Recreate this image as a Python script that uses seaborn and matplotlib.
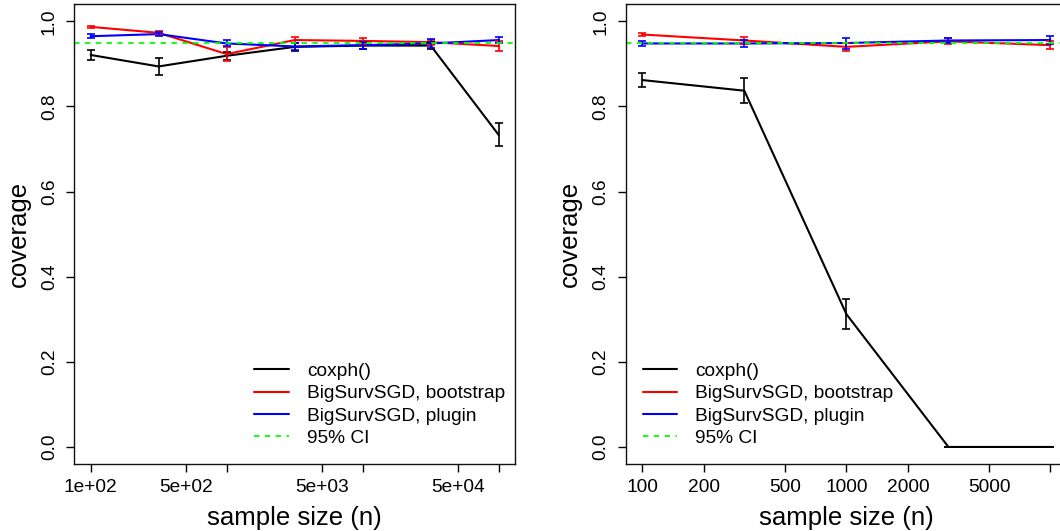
import matplotlib
matplotlib.use("Agg")
import matplotlib.pyplot as plt
import numpy as np
import pandas as pd
import seaborn as sns

sns.set_style("white")
plt.rcParams["font.family"] = ["Liberation Sans", "DejaVu Sans"]
plt.rcParams["text.color"] = "black"
plt.rcParams["axes.labelcolor"] = "black"
plt.rcParams["xtick.color"] = "black"
plt.rcParams["ytick.color"] = "black"

# left panel: sample sizes and coverage (+/- half width of error bars)
n_left = [100, 316, 1000, 3162, 10000, 31623, 100000]
cox_left = [0.921, 0.894, 0.919, 0.940, 0.943, 0.943, 0.733]
cox_left_err = [0.012, 0.019, 0.010, 0.010, 0.009, 0.008, 0.027]
boot_left = [0.987, 0.973, 0.923, 0.956, 0.954, 0.951, 0.942]
boot_left_err = [0.003, 0.004, 0.016, 0.008, 0.007, 0.006, 0.011]
plug_left = [0.965, 0.970, 0.948, 0.941, 0.944, 0.948, 0.956]
plug_left_err = [0.005, 0.004, 0.007, 0.009, 0.008, 0.010, 0.008]

# right panel
n_right = [100, 316, 1000, 3162, 10000]
cox_right = [0.862, 0.837, 0.312, 0.0, 0.0]
cox_right_err = [0.017, 0.029, 0.036, 0.0, 0.0]
boot_right = [0.969, 0.955, 0.940, 0.953, 0.944]
boot_right_err = [0.004, 0.008, 0.010, 0.007, 0.009]
plug_right = [0.948, 0.948, 0.949, 0.955, 0.956]
plug_right_err = [0.006, 0.008, 0.013, 0.007, 0.009]

target = 0.95

labels = ["coxph()", "BigSurvSGD, bootstrap", "BigSurvSGD, plugin"]
colors = {"coxph()": "black", "BigSurvSGD, bootstrap": "#ff0000",
          "BigSurvSGD, plugin": "#0000ff"}

left_ticks = [100, 500, 1000, 5000, 10000, 50000, 100000]
left_ticklabels = ["1e+02", "5e+02", "", "5e+03", "", "5e+04", ""]
right_ticks = [100, 200, 500, 1000, 2000, 5000, 10000]
right_ticklabels = ["100", "200", "500", "1000", "2000", "5000", ""]


def panel(ax, n, series, errs, ticks, ticklabels, legend_loc, anchor):
    rows = []
    for lab, vals in zip(labels, series):
        for x, y in zip(n, vals):
            rows.append({"n": x, "coverage": y, "method": lab})
    df = pd.DataFrame(rows)
    sns.lineplot(data=df, x="n", y="coverage", hue="method", palette=colors,
                 hue_order=labels, ax=ax, linewidth=1.5, legend=False)
    for lab, vals, err in zip(labels, series, errs):
        ax.errorbar(n, vals, yerr=err, fmt="none", ecolor=colors[lab],
                    elinewidth=1.2, capsize=3.2, capthick=1.2)
    ax.axhline(target, color="#00ff00", linestyle=(0, (3, 3)), linewidth=1.3)

    ax.set_xscale("log")
    lo, hi = np.log10(n[0]), np.log10(n[-1])
    pad = 0.04 * (hi - lo)
    ax.set_xlim(10 ** (lo - pad), 10 ** (hi + pad))
    ax.set_ylim(-0.04, 1.04)
    ax.set_xticks(ticks)
    ax.set_xticklabels(ticklabels)
    ax.minorticks_off()
    ax.set_yticks([0.0, 0.2, 0.4, 0.6, 0.8, 1.0])
    ax.set_yticklabels(["0.0", "0.2", "0.4", "0.6", "0.8", "1.0"])
    for t in ax.get_yticklabels():
        t.set_rotation(90)
        t.set_va("center")
    ax.tick_params(axis="both", which="major", direction="out", length=5.8,
                   width=1, labelsize=13.8, colors="black", pad=6,
                   bottom=True, left=True)
    ax.tick_params(axis="x", pad=5)
    for sp in ax.spines.values():
        sp.set_color("#111111")
        sp.set_linewidth(1.0)
    ax.set_xlabel("sample size (n)", fontsize=18.5, labelpad=7)
    ax.set_ylabel("coverage", fontsize=18.5, labelpad=7.5)

    handles = [plt.Line2D([], [], color=colors[l], linewidth=1.5) for l in labels]
    handles.append(plt.Line2D([], [], color="#00ff00", linestyle=(0, (3, 3)),
                              linewidth=1.3))
    ax.legend(handles, labels + ["95% CI"], loc=legend_loc,
              bbox_to_anchor=anchor, frameon=False, fontsize=13.8,
              handlelength=1.8, handletextpad=0.95, labelspacing=0.26,
              borderaxespad=0)


fig = plt.figure(figsize=(10.6, 5.31), dpi=100)
ax1 = fig.add_axes([0.0701, 0.1262, 0.4158, 0.8657])
ax2 = fig.add_axes([0.5906, 0.1262, 0.4158, 0.8657])

panel(ax1, n_left, [cox_left, boot_left, plug_left],
      [cox_left_err, boot_left_err, plug_left_err],
      left_ticks, left_ticklabels, "lower right", (0.995, 0.02))
panel(ax2, n_right, [cox_right, boot_right, plug_right],
      [cox_right_err, boot_right_err, plug_right_err],
      right_ticks, right_ticklabels, "lower left", (0.02, 0.02))

fig.savefig("out.png", dpi=100)
